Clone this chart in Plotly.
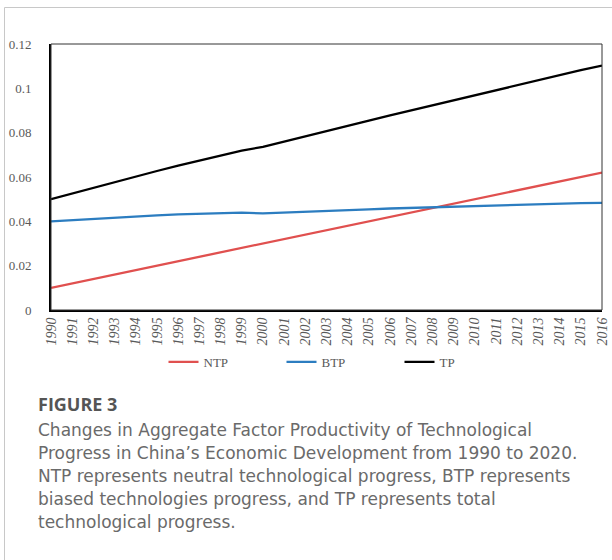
import plotly.graph_objects as go

years = [str(y) for y in range(1990, 2017)]
ntp = [0.0100, 0.0120, 0.0140, 0.0160, 0.0180, 0.0200, 0.0220, 0.0240, 0.0260,
       0.0280, 0.0300, 0.0320, 0.0340, 0.0360, 0.0380, 0.0400, 0.0420, 0.0440,
       0.0460, 0.0480, 0.0500, 0.0520, 0.0540, 0.0560, 0.0580, 0.0600, 0.0620]
btp = [0.0400, 0.0406, 0.0411, 0.0416, 0.0422, 0.0427, 0.0431, 0.0434, 0.0437,
       0.0439, 0.0436, 0.0439, 0.0442, 0.0446, 0.0450, 0.0454, 0.0458, 0.0461,
       0.0464, 0.0467, 0.0470, 0.0473, 0.0476, 0.0478, 0.0480, 0.0482, 0.0483]
tp = [0.0500, 0.0526, 0.0551, 0.0576, 0.0602, 0.0627, 0.0651, 0.0674, 0.0697,
      0.0719, 0.0736, 0.0759, 0.0782, 0.0806, 0.0830, 0.0854, 0.0878, 0.0901,
      0.0924, 0.0947, 0.0970, 0.0993, 0.1016, 0.1038, 0.1060, 0.1082, 0.1103]
y_ticks = [0, 0.02, 0.04, 0.06, 0.08, 0.1, 0.12]
y_tick_labels = ["0", "0.02", "0.04", "0.06", "0.08", "0.1", "0.12"]

caption_title = "FIGURE 3"
caption_lines = [
    "Changes in Aggregate Factor Productivity of Technological",
    "Progress in China\u2019s Economic Development from 1990 to 2020.",
    "NTP represents neutral technological progress, BTP represents",
    "biased technologies progress, and TP represents total",
    "technological progress.",
]

W, H = 612, 560
L, R, T, B = 51, 602, 44, 310
pw, ph = R - L, B - T

def px_x(x):
    return (x - L) / pw

def px_y(y):
    return (B - y) / ph

fig = go.Figure()
serif = "Liberation Serif, Times New Roman, serif"
fig.add_trace(go.Scatter(x=years, y=ntp, mode="lines", name="NTP",
                         line=dict(color="#E0504F", width=2.3)))
fig.add_trace(go.Scatter(x=years, y=btp, mode="lines", name="BTP",
                         line=dict(color="#2C7DC0", width=2.3)))
fig.add_trace(go.Scatter(x=years, y=tp, mode="lines", name="TP",
                         line=dict(color="#000000", width=2.3)))

fig.update_layout(
    width=W, height=H,
    margin=dict(l=L, r=W - R, t=T, b=H - B, autoexpand=False),
    paper_bgcolor="white", plot_bgcolor="white",
    showlegend=True,
    legend=dict(orientation="h", x=0.5 + 14 / pw, xanchor="center", y=px_y(362), yanchor="middle",
                font=dict(family=serif, size=13, color="#595959"),
                entrywidth=73, entrywidthmode="pixels", itemwidth=30,
                bgcolor="rgba(0,0,0,0)"),
    xaxis=dict(type="category", range=[0, 26], showgrid=False, zeroline=False,
               showline=True, linecolor="black", linewidth=2,
               tickangle=-90, tickfont=dict(family=serif, size=14, color="#595959", style="italic"),
               ticks="", fixedrange=True, automargin=False),
    yaxis=dict(range=[0, 0.12], tickvals=y_ticks, ticktext=y_tick_labels,
               showgrid=False, zeroline=False, showline=True, linecolor="black", linewidth=2,
               tickfont=dict(family=serif, size=13, color="#595959"),
               ticks="", ticklabelstandoff=15, fixedrange=True, automargin=False),
)

# thin top/right border of plot box
fig.add_shape(type="rect", xref="paper", yref="paper", x0=0, x1=1, y0=0, y1=1,
              line=dict(color="#333333", width=1), fillcolor="rgba(0,0,0,0)", layer="above")
# outer panel frame (left and top)
fig.add_shape(type="path", xref="paper", yref="paper",
              path=f"M {px_x(4.5)} {px_y(560)} L {px_x(4.5)} {px_y(7.5)} L {px_x(612)} {px_y(7.5)}",
              line=dict(color="#c8c8c8", width=1))

fig.add_annotation(text="<b>" + caption_title + "</b>", xref="paper", yref="paper",
                   x=px_x(36), y=px_y(404), xanchor="left", yanchor="middle", showarrow=False,
                   font=dict(family="Open Sans, Noto Sans, sans-serif", size=18, color="#555555"))
for i, line in enumerate(caption_lines):
    fig.add_annotation(text=line, xref="paper", yref="paper",
                       x=px_x(36), y=px_y(430 + 23 * i), xanchor="left", yanchor="middle",
                       showarrow=False,
                       font=dict(family="DejaVu Sans, Verdana, sans-serif", size=17, color="#6a6a6a"))

fig.write_html("out.html", config={"displayModeBar": False},
               post_script="document.body.style.margin='0';document.body.style.overflow='hidden';")
